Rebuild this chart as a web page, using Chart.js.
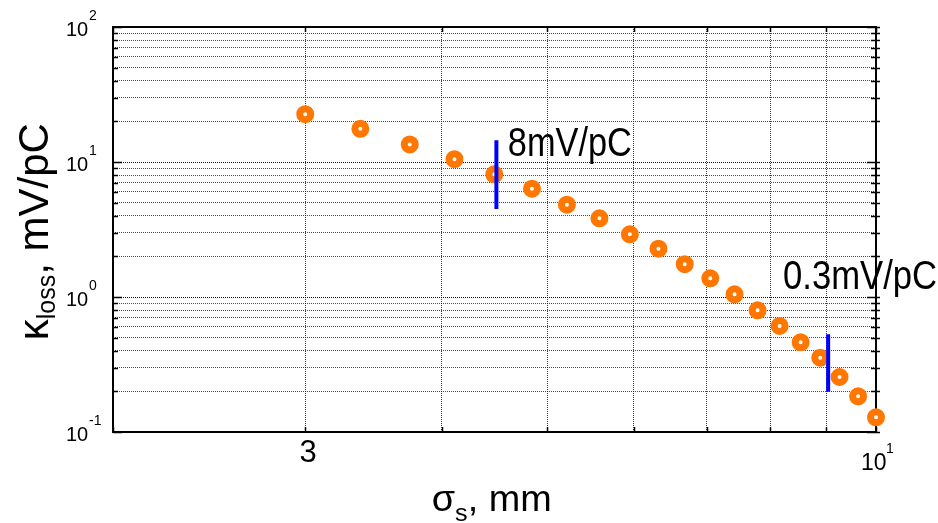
<!DOCTYPE html>
<html>
<head>
<meta charset="utf-8">
<script src="https://cdn.jsdelivr.net/npm/chart.js@4.4.1/dist/chart.umd.min.js"></script>
<style>
  html, body { margin: 0; padding: 0; background: #ffffff; }
  #wrap { width: 938px; height: 523px; position: relative; }
</style>
</head>
<body>
<div id="wrap"><canvas id="c" width="938" height="523"></canvas></div>
<script>
// ---------- data ----------
const sigmaS = [3.00, 3.37, 3.74, 4.11, 4.47, 4.84, 5.21, 5.58, 5.95, 6.32, 6.68, 7.05, 7.42, 7.79, 8.16, 8.53, 8.89, 9.26, 9.63, 10.00];
const kLoss = [22.6, 17.6, 13.5, 10.5, 8.1, 6.34, 4.83, 3.83, 2.91, 2.28, 1.75, 1.375, 1.047, 0.797, 0.610, 0.462, 0.355, 0.2555, 0.1838, 0.1285];

const marker1X = [4.49, 4.49];
const marker1Y = [14.5, 4.49];
const marker2X = [9.04, 9.04];
const marker2Y = [0.529, 0.199];

const annoLabels = ['8mV/pC', '0.3mV/pC'];
const annoX = [4.60, 8.22];
const annoY = [11.08, 1.156];

const xTickValues = [3, 10];
const xTickBase = ['3', '10'];
const xTickExp = ['', '1'];
const yTickValues = [0.1, 1, 10, 100];
const yTickBase = ['10', '10', '10', '10'];
const yTickExp = ['-1', '0', '1', '2'];

const xTitleParts = ['\u03C3', 's', ', mm'];
const yTitleParts = ['\u03BA', 'loss', ', mV/pC'];

// ---------- helpers ----------
const FONT = '"Liberation Sans", Arial, Helvetica, sans-serif';
function isDecade(v) {
  const l = Math.log10(v);
  return Math.abs(l - Math.round(l)) < 1e-6;
}
function drawRich(ctx, segs, x, y, align, targetW, rot) {
  ctx.save();
  ctx.translate(x, y);
  if (rot) ctx.rotate(rot);
  let total = 0;
  const widths = segs.map(s => {
    ctx.font = s.size + 'px ' + FONT;
    const w = ctx.measureText(s.t).width;
    total += w;
    return w;
  });
  const sx = targetW ? targetW / total : 1;
  let start = align === 'center' ? -total * sx / 2 : (align === 'right' ? -total * sx : 0);
  ctx.scale(sx, 1);
  let cx = start / sx;
  ctx.fillStyle = '#000';
  ctx.textBaseline = 'alphabetic';
  ctx.textAlign = 'left';
  segs.forEach((s, i) => {
    ctx.font = s.size + 'px ' + FONT;
    ctx.fillText(s.t, cx, s.dy || 0);
    cx += widths[i];
  });
  ctx.restore();
}
function gridValues(min, max) {
  const out = [];
  for (let e = Math.floor(Math.log10(min)); e <= Math.ceil(Math.log10(max)); e++) {
    for (let m = 1; m <= 9; m++) {
      const v = +(m * Math.pow(10, e)).toPrecision(6);
      if (v >= min - 1e-9 && v <= max + 1e-9) out.push(v);
    }
  }
  return out;
}

const framePlugin = {
  id: 'frame',
  beforeDatasetsDraw(chart) {
    const ctx = chart.ctx;
    const a = chart.chartArea;
    const xs = chart.scales.x, ys = chart.scales.y;
    ctx.save();
    ctx.strokeStyle = '#000';
    ctx.lineWidth = 1.5;
    ys.ticks.forEach(t => {
      const py = Math.round(ys.getPixelForValue(t.value)) + 0.5;
      const len = isDecade(t.value) ? 9 : 5;
      ctx.beginPath();
      ctx.moveTo(a.left, py); ctx.lineTo(a.left + len, py);
      ctx.moveTo(a.right - len, py); ctx.lineTo(a.right + 4, py);
      ctx.stroke();
    });
    xs.ticks.forEach(t => {
      const px = Math.round(xs.getPixelForValue(t.value)) + 0.5;
      const len = 5;
      ctx.beginPath();
      ctx.moveTo(px, a.bottom); ctx.lineTo(px, a.bottom - len);
      ctx.moveTo(px, a.top); ctx.lineTo(px, a.top + len);
      ctx.stroke();
    });
    ctx.lineWidth = 2;
    ctx.strokeRect(a.left, a.top, a.right - a.left, a.bottom - a.top);
    ctx.restore();
  },
  afterDraw(chart) {
    const ctx = chart.ctx;
    const a = chart.chartArea;
    const xs = chart.scales.x, ys = chart.scales.y;
    yTickValues.forEach((v, i) => {
      const py = ys.getPixelForValue(v);
      drawRich(ctx, [{t: yTickBase[i], size: 20}], a.left - 47, py + 9, 'left');
      drawRich(ctx, [{t: yTickExp[i], size: 14}], a.left - 24, py - 7, 'left');
    });
    xTickValues.forEach((v, i) => {
      const px = xs.getPixelForValue(v);
      if (xTickExp[i] === '') {
        drawRich(ctx, [{t: xTickBase[i], size: 31}], px + 3, a.bottom + 30, 'center');
      } else {
        drawRich(ctx, [{t: xTickBase[i], size: 23}], px - 15, a.bottom + 37.5, 'left');
        drawRich(ctx, [{t: xTickExp[i], size: 14}], px + 10, a.bottom + 21, 'left');
      }
    });
    const annoW = [124, 154];
    annoLabels.forEach((lab, i) => {
      const px = xs.getPixelForValue(annoX[i]);
      const py = ys.getPixelForValue(annoY[i]);
      drawRich(ctx, [{t: lab, size: 40}], px, py, 'left', annoW[i]);
    });
    drawRich(ctx, [
      {t: xTitleParts[0], size: 36},
      {t: xTitleParts[1], size: 24, dy: 10},
      {t: xTitleParts[2], size: 36}
    ], 491.7, a.bottom + 79, 'center', 120);
    drawRich(ctx, [
      {t: yTitleParts[0], size: 42},
      {t: yTitleParts[1], size: 25, dy: 7.3},
      {t: yTitleParts[2], size: 42}
    ], 47.7, 231.7, 'center', 217, -Math.PI / 2);
  }
};

const xGrid = gridValues(2, 10);
const yGrid = gridValues(0.1, 100);

new Chart(document.getElementById('c'), {
  type: 'scatter',
  data: {
    datasets: [
      {
        label: 'marker1',
        data: marker1X.map((x, i) => ({x, y: marker1Y[i]})),
        showLine: true,
        borderColor: '#0000FF',
        borderWidth: 4,
        pointRadius: 0,
        clip: false,
        order: 0
      },
      {
        label: 'marker2',
        data: marker2X.map((x, i) => ({x, y: marker2Y[i]})),
        showLine: true,
        borderColor: '#0000FF',
        borderWidth: 4,
        pointRadius: 0,
        clip: false,
        order: 0
      },
      {
        label: 'kloss',
        data: sigmaS.map((x, i) => ({x, y: kLoss[i]})),
        pointStyle: 'circle',
        pointRadius: 5.5,
        pointBorderWidth: 7,
        pointBackgroundColor: '#FFFFFF',
        pointBorderColor: '#FF7700',
        backgroundColor: '#FFFFFF',
        borderColor: '#FF7700',
        clip: false,
        order: 1
      }
    ]
  },
  options: {
    responsive: false,
    animation: false,
    devicePixelRatio: 1,
    layout: { padding: { left: 113, right: 62, top: 27, bottom: 91 } },
    plugins: { legend: { display: false }, tooltip: { enabled: false } },
    events: [],
    scales: {
      x: {
        type: 'logarithmic',
        min: 2, max: 10,
        afterBuildTicks: s => { s.ticks = xGrid.map(v => ({value: v})); },
        afterFit: s => { s.height = 0; },
        ticks: { display: false, autoSkip: false },
        grid: {
          drawTicks: false,
          color: 'rgba(0,0,0,0.75)',
          lineWidth: 1
        },
        border: { display: false, dash: [1, 1] }
      },
      y: {
        type: 'logarithmic',
        min: 0.1, max: 100,
        afterBuildTicks: s => { s.ticks = yGrid.map(v => ({value: v})); },
        afterFit: s => { s.width = 0; },
        ticks: { display: false, autoSkip: false },
        grid: {
          drawTicks: false,
          color: c => (c.tick && isDecade(c.tick.value)) ? 'rgba(0,0,0,0.95)' : 'rgba(0,0,0,0.7)',
          lineWidth: 1
        },
        border: { display: false, dash: [1, 1] }
      }
    }
  },
  plugins: [framePlugin]
});
</script>
</body>
</html>
